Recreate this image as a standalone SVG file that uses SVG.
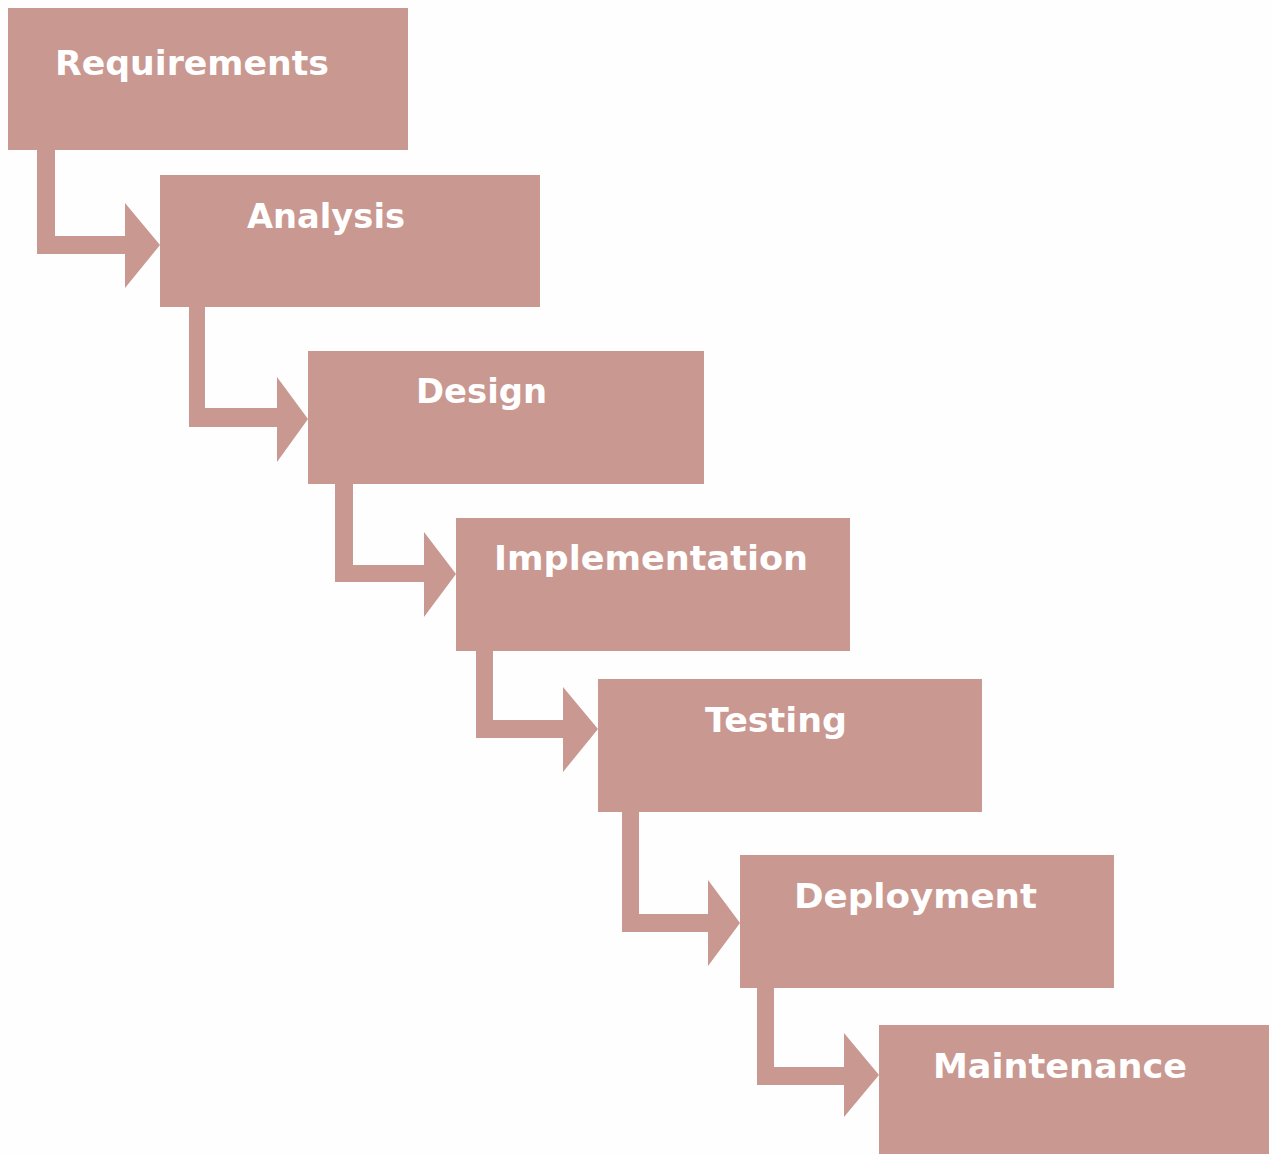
<svg xmlns="http://www.w3.org/2000/svg" width="1272" height="1154" viewBox="0 0 1272 1154">
<style>
.box{fill:#C99891}
.arr{fill:#C99891}
.lbl{font-family:"DejaVu Sans","Liberation Sans",sans-serif;font-weight:bold;font-size:34px;fill:#FFFFFF}
</style>
<rect width="1272" height="1154" fill="#FEFEFE"/>
<g id="connectors">
<path class="arr" d="M37,150 H55 V236 H125 V203 L160,245 L125,288 V254 H37 Z"/>
<path class="arr" d="M189,307 H205 V408 H277 V377 L308,419 L277,462 V427 H189 Z"/>
<path class="arr" d="M335,484 H353 V565 H424 V532 L456,574 L424,617 V582 H335 Z"/>
<path class="arr" d="M476,651 H493 V720 H563 V687 L598,729 L563,772 V738 H476 Z"/>
<path class="arr" d="M622,812 H639 V914 H708 V880 L740,923 L708,966 V932 H622 Z"/>
<path class="arr" d="M757,988 H774 V1067 H844 V1033 L879,1075 L844,1117 V1085 H757 Z"/>
</g>
<g id="requirements"><rect class="box" x="8" y="8" width="400" height="142"/><text class="lbl" x="55" y="75" textLength="274" lengthAdjust="spacingAndGlyphs">Requirements</text></g>
<g id="analysis"><rect class="box" x="160" y="175" width="380" height="132"/><text class="lbl" x="247" y="228" textLength="158" lengthAdjust="spacingAndGlyphs">Analysis</text></g>
<g id="design"><rect class="box" x="308" y="351" width="396" height="133"/><text class="lbl" x="416" y="403" textLength="131" lengthAdjust="spacingAndGlyphs">Design</text></g>
<g id="implementation"><rect class="box" x="456" y="518" width="394" height="133"/><text class="lbl" x="494" y="570" textLength="314" lengthAdjust="spacingAndGlyphs">Implementation</text></g>
<g id="testing"><rect class="box" x="598" y="679" width="384" height="133"/><text class="lbl" x="705" y="732" textLength="142" lengthAdjust="spacingAndGlyphs">Testing</text></g>
<g id="deployment"><rect class="box" x="740" y="855" width="374" height="133"/><text class="lbl" x="794" y="908" textLength="243" lengthAdjust="spacingAndGlyphs">Deployment</text></g>
<g id="maintenance"><rect class="box" x="879" y="1025" width="390" height="129"/><text class="lbl" x="933" y="1078" textLength="254" lengthAdjust="spacingAndGlyphs">Maintenance</text></g>
</svg>
